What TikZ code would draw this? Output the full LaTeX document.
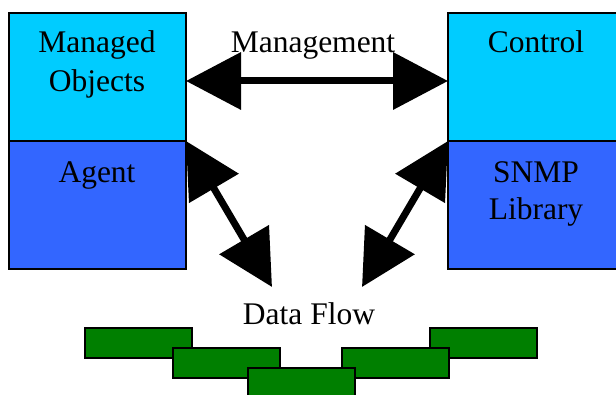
\documentclass[tikz,border=0pt]{standalone}
\usepackage{fontspec}
\setmainfont{Liberation Serif}
\usetikzlibrary{arrows.meta}
\definecolor{topcyan}{HTML}{00CCFF}
\definecolor{lowblue}{HTML}{3366FF}
\definecolor{bargreen}{HTML}{007F00}
\begin{document}
\begin{tikzpicture}[x=1pt,y=-1pt,
  box/.style={draw=black,line width=1.2pt,outer sep=0pt,inner sep=0pt,minimum width=177pt,minimum height=128pt,anchor=north west},
  bar/.style={draw=black,line width=1.3pt,fill=bargreen,outer sep=0pt,inner sep=0pt,minimum width=107pt,minimum height=30pt,anchor=north west},
  txt/.style={font=\fontsize{31.5}{36}\selectfont,anchor=base,inner sep=0pt},
  big/.style={line width=7pt,{Triangle[length=55pt,width=56pt]}-{Triangle[length=55pt,width=56pt]}}]
\useasboundingbox (0,0) rectangle (616,395);
% boxes
\node[box,fill=topcyan] (mo) at (9,13) {};
\node[box,fill=lowblue] (ag) at (9,141) {};
\node[box,fill=topcyan] (ctl) at (448,13) {};
\node[box,fill=lowblue] (snmp) at (448,141) {};
% box labels
\node[txt] (t1) at (97,53) {Managed};
\node[txt] (t2) at (97,92) {Objects};
\node[txt] (t3) at (97,183) {Agent};
\node[txt] (t4) at (536,53) {Control};
\node[txt] (t5) at (536,183) {SNMP};
\node[txt] (t6) at (536,220) {Library};
\node[txt] (mg) at (313,53) {Management};
\node[txt] (df) at (309,325) {Data Flow};
% green bars
\node[bar] (b1) at (85,328) {};
\node[bar] (b2) at (173,348) {};
\node[bar] (b5) at (430,328) {};
\node[bar] (b4) at (342,348) {};
\node[bar] (b3) at (248,368) {};
% arrows
\coordinate (mL) at (186,81);
\coordinate (mR) at (448,81);
\coordinate (dL) at (272,287);
\coordinate (dR) at (362,287);
\draw[big] (mL) -- (mR);
\draw[big] (mo.south east) -- (dL);
\draw[big] (ctl.south west) -- (dR);
\end{tikzpicture}
\end{document}
